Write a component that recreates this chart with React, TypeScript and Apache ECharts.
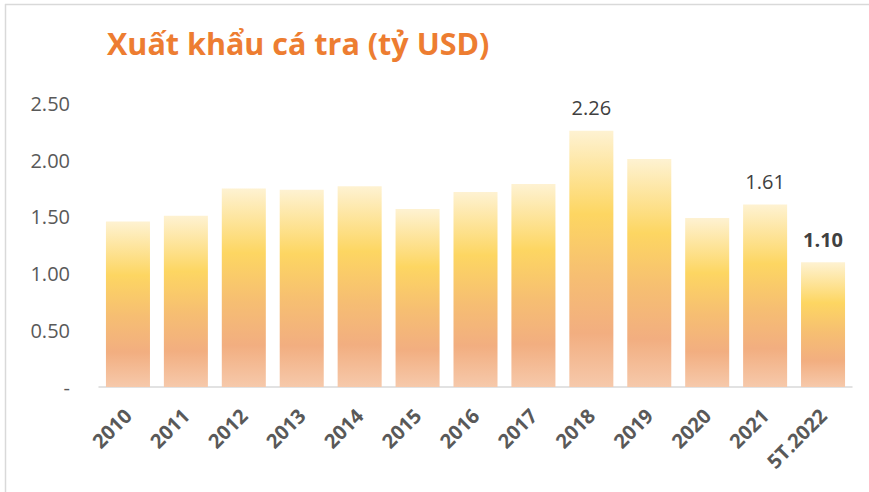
import React, { useEffect, useRef } from "react";
import * as echarts from "echarts";

const title = "Xuất khẩu cá tra (tỷ USD)";
const categories = ["2010", "2011", "2012", "2013", "2014", "2015", "2016", "2017", "2018", "2019", "2020", "2021", "5T.2022"];
const values = [1.46, 1.51, 1.75, 1.74, 1.77, 1.57, 1.72, 1.79, 2.26, 2.01, 1.49, 1.61, 1.10];
const labeledCategories = ["2018", "2021", "5T.2022"];
const boldLabelCategory = "5T.2022";

export default function App() {
  const ref = useRef<HTMLDivElement>(null);
  useEffect(() => {
    if (!ref.current) return;
    const chart = echarts.init(ref.current, null, { renderer: "svg" });
    const grad = new echarts.graphic.LinearGradient(0, 0, 0, 1, [
      { offset: 0, color: "#FEF2D2" },
      { offset: 0.325, color: "#FDD662" },
      { offset: 0.57, color: "#F6BE72" },
      { offset: 0.79, color: "#F2AE80" },
      { offset: 1, color: "#F6C9AB" },
    ]);
    chart.setOption({
      animation: false,
      backgroundColor: "#ffffff",
      title: {
        text: title,
        left: 102,
        top: 22,
        textStyle: {
          fontFamily: "Open Sans",
          fontWeight: "bold",
          fontSize: 30.5,
          color: "#ED7D31",
        },
      },
      graphic: [
        { type: "line", shape: { x1: 5.5, y1: 4, x2: 5.5, y2: 492 }, style: { stroke: "#D9D9D9", lineWidth: 1.5 } },
        { type: "line", shape: { x1: 5, y1: 4.5, x2: 869, y2: 4.5 }, style: { stroke: "#D9D9D9", lineWidth: 1.5 } },
      ],
      grid: { left: 99, right: 17, top: 103.5, bottom: 105 },
      xAxis: {
        type: "category",
        data: categories,
        axisLine: { lineStyle: { color: "#D9D9D9", width: 1.5 } },
        axisTick: { show: false },
        axisLabel: {
          rotate: 45,
          interval: 0,
          fontFamily: "Open Sans",
          fontWeight: "bold",
          fontSize: 20,
          color: "#595959",
          margin: 25,
        },
      },
      yAxis: {
        type: "value",
        min: 0,
        max: 2.5,
        interval: 0.5,
        splitLine: { show: false },
        axisLine: { show: false },
        axisTick: { show: false },
        axisLabel: {
          fontFamily: "Open Sans",
          fontSize: 20,
          color: "#595959",
          margin: 29,
          formatter: (v: number) => (v === 0 ? "-" : v.toFixed(2)),
        },
      },
      series: [
        {
          type: "bar",
          data: values.map((v, i) => ({
            value: v,
            label: {
              show: labeledCategories.includes(categories[i]),
              fontWeight: categories[i] === boldLabelCategory ? "bold" : "normal",
            },
          })),
          barCategoryGap: "24%",
          itemStyle: { color: grad },
          label: {
            position: "top",
            distance: 13,
            fontFamily: "Open Sans",
            fontSize: 20,
            color: "#404040",
            formatter: (p: any) => p.value.toFixed(2),
          },
        },
      ],
    });
    return () => chart.dispose();
  }, []);
  return (
    <div
      ref={ref}
      style={{ position: "fixed", left: 0, top: 0, width: 869, height: 492 }}
    />
  );
}
